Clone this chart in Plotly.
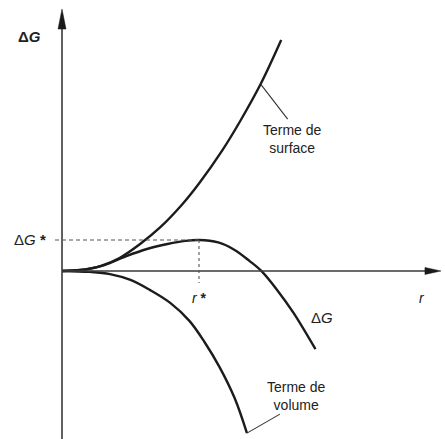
import plotly.graph_objects as go

# Nucleation energy diagram: radius r in units of r*, energy in units of dG*
r_surface = [0, 0.13, 0.28, 0.42, 0.57, 0.72, 0.88, 1.0, 1.17, 1.3, 1.45, 1.6]
g_surface = [0, 0.03, 0.16, 0.42, 0.87, 1.42, 2.16, 2.82, 3.89, 4.83, 6.03, 7.45]

r_total = [0, 0.17, 0.31, 0.47, 0.62, 0.77, 0.9, 1.0, 1.14, 1.26, 1.37, 1.46, 1.57, 1.69, 1.85]
g_total = [0, 0.05, 0.19, 0.48, 0.71, 0.87, 0.97, 1.0, 0.92, 0.68, 0.32, -0.02, -0.61, -1.35, -2.52]

r_volume = [0, 0.2, 0.35, 0.5, 0.64, 0.79, 0.93, 1.04, 1.15, 1.26, 1.35]
g_volume = [0, -0.03, -0.1, -0.29, -0.61, -1.03, -1.61, -2.29, -3.1, -4.1, -5.23]

r_star = 1.0
g_star = 1.0

X_RANGE = [-0.4526, 2.7956]
Y_RANGE = [-5.42, 8.742]
W, H = 445, 439
px_x = (X_RANGE[1] - X_RANGE[0]) / W   # data units per pixel, horizontal
px_y = (Y_RANGE[1] - Y_RANGE[0]) / H   # data units per pixel, vertical

INK = "#1c1c1c"
FONT = "Liberation Sans, Arial, sans-serif"

fig = go.Figure()
for xs, ys in [(r_surface, g_surface), (r_total, g_total), (r_volume, g_volume)]:
    fig.add_trace(go.Scatter(
        x=xs, y=ys, mode="lines",
        line=dict(color=INK, width=2.4, shape="spline", smoothing=1.0),
        hoverinfo="skip", showlegend=False,
    ))

shapes = []
# axes
x_end = 2.766
y_top = 8.45
shapes.append(dict(type="line", x0=0, x1=0, y0=Y_RANGE[0], y1=y_top - 10 * px_y,
                   line=dict(color="#3a3a3a", width=1.6)))
shapes.append(dict(type="line", x0=0, x1=x_end - 8 * px_x, y0=0, y1=0,
                   line=dict(color="#3a3a3a", width=1.6)))
# arrow heads
shapes.append(dict(
    type="path",
    path=f"M 0 {y_top} L {-4*px_x} {y_top-20*px_y} L {4*px_x} {y_top-20*px_y} Z",
    fillcolor="#1a1a1a", line=dict(color="#1a1a1a", width=0.5)))
shapes.append(dict(
    type="path",
    path=f"M {x_end} 0 L {x_end-16*px_x} {3.5*px_y} L {x_end-16*px_x} {-3.5*px_y} Z",
    fillcolor="#1a1a1a", line=dict(color="#1a1a1a", width=0.5)))
# critical point guides
shapes.append(dict(type="line", x0=-7 * px_x, x1=r_star, y0=g_star, y1=g_star,
                   line=dict(color="#555", width=1.1, dash="4px,3px")))
shapes.append(dict(type="line", x0=r_star, x1=r_star, y0=g_star, y1=-12 * px_y,
                   line=dict(color="#555", width=1.1, dash="3px,3px")))
# leader lines for the term labels
shapes.append(dict(type="line", x0=1.45, x1=1.45 + 27 * px_x, y0=6.03, y1=6.03 - 35 * px_y,
                   line=dict(color="#333", width=1.1)))
shapes.append(dict(type="line", x0=1.35, x1=1.35 + 33 * px_x, y0=-5.23, y1=-5.23 + 19 * px_y,
                   line=dict(color="#333", width=1.1)))

def label(x, y, text, size=12, **kw):
    return dict(x=x, y=y, text=text, showarrow=False, xref="x", yref="y",
                font=dict(family=FONT, size=size, color="#222"), **kw)

annotations = [
    label(X_RANGE[0] + 29 * px_x, Y_RANGE[1] - 36 * px_y, "<b>Δ<i>G</i></b>", size=15),
    label(X_RANGE[0] + 30 * px_x, g_star, "Δ<i>G</i> <b>*</b>", size=15),
    label(r_star, -27 * px_y, "<i>r</i> <b>*</b>", size=14),
    label(X_RANGE[0] + 422 * px_x, -27 * px_y, "<i>r</i>", size=14),
    label(1.85 + 7 * px_x, -1.5, "Δ<i>G</i>", size=15),
    label(1.45 + 32 * px_x, 6.03 - 55 * px_y, "Terme de<br>surface", size=14),
    label(1.35 + 50 * px_x, -5.23 + 37 * px_y, "Terme de<br>volume", size=14),
]

fig.update_layout(
    width=W, height=H,
    margin=dict(l=0, r=0, t=0, b=0),
    paper_bgcolor="white", plot_bgcolor="white",
    xaxis=dict(range=X_RANGE, visible=False, fixedrange=True),
    yaxis=dict(range=Y_RANGE, visible=False, fixedrange=True),
    shapes=shapes, annotations=annotations,
)

fig.write_html("out.html")
